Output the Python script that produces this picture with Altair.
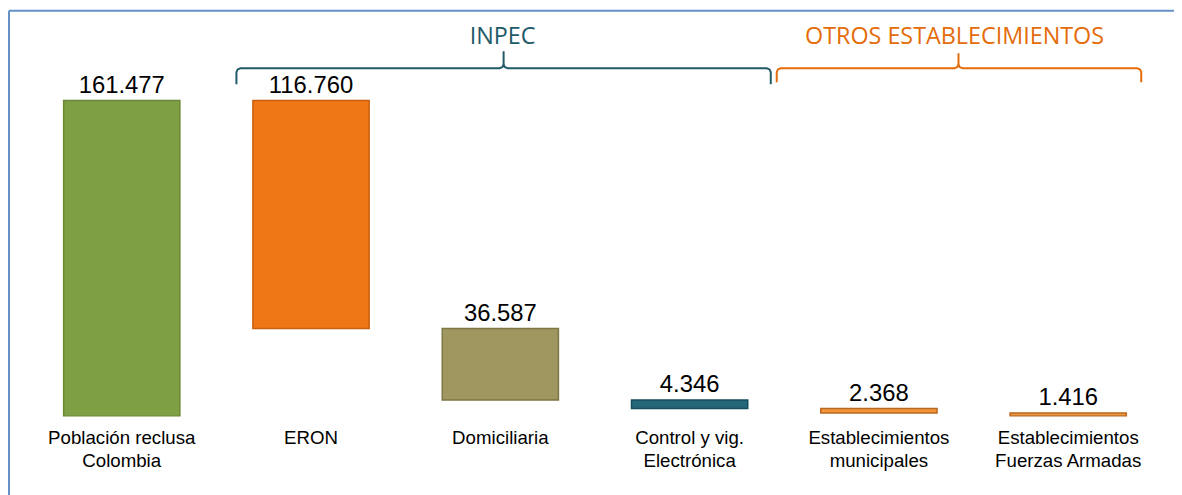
import altair as alt
import pandas as pd

categories = [
    "Población reclusa\nColombia",
    "ERON",
    "Domiciliaria",
    "Control y vig.\nElectrónica",
    "Establecimientos\nmunicipales",
    "Establecimientos\nFuerzas Armadas",
]
values = [161477, 116760, 36587, 4346, 2368, 1416]
value_labels = ["161.477", "116.760", "36.587", "4.346", "2.368", "1.416"]
fills = ["#7F9F45", "#F07715", "#9F9660", "#24677A", "#F2963C", "#F2963C"]
strokes = ["#6A8836", "#C65E0C", "#7E7746", "#164D5B", "#B8681F", "#B8681F"]
group_titles = ["INPEC", "OTROS ESTABLECIMIENTOS"]
group_colors = ["#215A69", "#E46C0A"]

# waterfall: first bar is the total, the following ones are subtracted from it
rows = []
level = 0
for i, (c, v, lab) in enumerate(zip(categories, values, value_labels)):
    if i == 0:
        start, end = 0, v
        level = v
    else:
        start, end = level, level - v
        level = end
    rows.append({"cat": c, "start": start, "end": end, "top": max(start, end), "label": lab})
df = pd.DataFrame(rows)

W, H = 1070, 409
PAD_L, PAD_T = 56, 0

x_enc = alt.X(
    "cat:N",
    sort=categories,
    scale=alt.Scale(paddingInner=0.386, paddingOuter=0),
    axis=alt.Axis(
        title=None, domain=False, ticks=False, labelAngle=0,
        labelFont="Liberation Sans", labelFontSize=18.8, labelColor="#000000",
        labelLineHeight=23, labelPadding=13, labelBaseline="top",
        labelExpr="split(datum.label, '\\n')",
    ),
)
y_scale = alt.Scale(domain=[0, 208000], nice=False, zero=True)

base = alt.Chart(df)
bars = base.mark_bar(strokeWidth=1.5).encode(
    x=x_enc,
    y=alt.Y("start:Q", scale=y_scale, axis=None),
    y2="end:Q",
    color=alt.Color("cat:N", scale=alt.Scale(domain=categories, range=fills), legend=None),
    stroke=alt.Stroke("cat:N", scale=alt.Scale(domain=categories, range=strokes), legend=None),
)
labels = base.mark_text(
    font="Liberation Sans", fontSize=24, baseline="alphabetic", dy=-8, color="#000000"
).encode(
    x=alt.X("cat:N", sort=categories),
    y=alt.Y("top:Q", scale=y_scale),
    text="label:N",
)

# braces (decorations, pixel coordinates relative to plot origin)
def brace(L, R, M, y0, depth, tip):
    pts = [(L, y0 + depth), (L, y0 + 4), (L + 1.2, y0 + 1.2), (L + 4, y0),
           (M - 4, y0), (M - 1.2, y0 - 1.2), (M, y0 - 4), (M, y0 - tip),
           (M, y0 - 4), (M + 1.2, y0 - 1.2), (M + 4, y0),
           (R - 4, y0), (R - 1.2, y0 + 1.2), (R, y0 + 4), (R, y0 + depth)]
    return pd.DataFrame([{"px": p[0], "py": p[1], "i": k} for k, p in enumerate(pts)])

off_x, off_y = 8 + PAD_L, 8 + PAD_T

def brace_chart(pdf, color):
    return alt.Chart(pdf).mark_line(strokeWidth=2, clip=False, color=color).encode(
        x=alt.X("px:Q", scale=None),
        y=alt.Y("py:Q", scale=None),
        order="i:Q",
    )

brace1 = brace_chart(brace(238 - off_x, 776 - off_x, 507 - off_x, 67 - off_y, 16, 17), group_colors[0])
brace2 = brace_chart(brace(782 - off_x, 1149 - off_x, 965 - off_x, 67 - off_y, 14, 15), group_colors[1])

t1 = alt.Chart(alt.Data(values=[{}])).mark_text(
    text=group_titles[0], font="Open Sans", fontSize=23.5, color=group_colors[0], baseline="middle"
).encode(x=alt.value(506 - off_x), y=alt.value(36 - off_y))
t2 = alt.Chart(alt.Data(values=[{}])).mark_text(
    text=group_titles[1], font="Open Sans", fontSize=23.5, color=group_colors[1], baseline="middle"
).encode(x=alt.value(961 - off_x), y=alt.value(36 - off_y))

border_top = alt.Chart(alt.Data(values=[{}])).mark_rule(color="#6690C8", strokeWidth=2).encode(
    x=alt.value(-PAD_L + 1), x2=alt.value(1300), y=alt.value(1 - PAD_T)
)
border_left = alt.Chart(alt.Data(values=[{}])).mark_rule(color="#6690C8", strokeWidth=2).encode(
    x=alt.value(-PAD_L + 1), y=alt.value(1 - PAD_T), y2=alt.value(700)
)

chart = alt.layer(bars, labels, brace1, brace2, t1, t2, border_top, border_left).properties(
    width=W, height=H,
    autosize=alt.AutoSizeParams(type="none"),
    padding={"left": PAD_L, "top": PAD_T, "right": 1174 - W - PAD_L, "bottom": 78},
    background="white",
).configure_view(stroke=None)

chart.save("out.html", embed_options={"renderer": "svg", "actions": False})
